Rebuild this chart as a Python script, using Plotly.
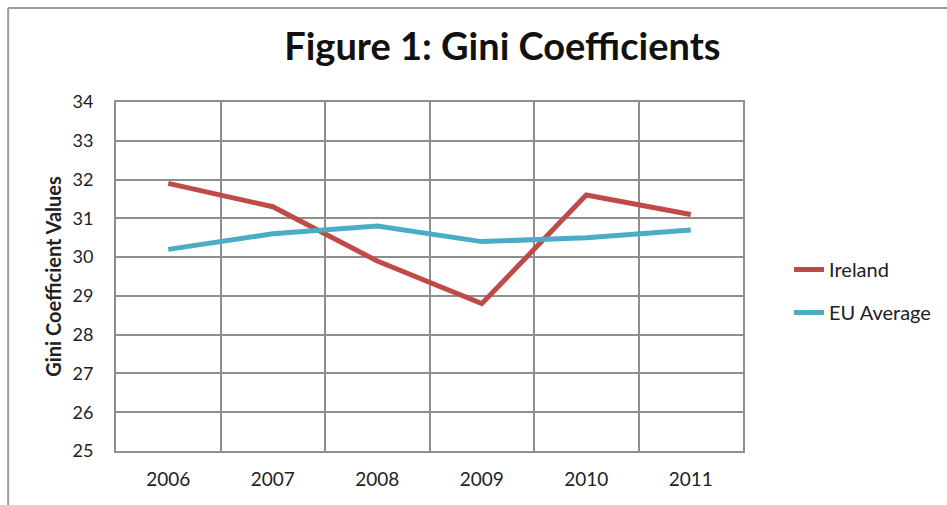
import plotly.graph_objects as go

years = ["2006", "2007", "2008", "2009", "2010", "2011"]
ireland = [31.9, 31.3, 29.9, 28.8, 31.6, 31.1]
eu_average = [30.2, 30.6, 30.8, 30.4, 30.5, 30.7]
y_ticks = [25, 26, 27, 28, 29, 30, 31, 32, 33, 34]

FONT = "Lato"
GRID = "#8e8e8e"

fig = go.Figure()
fig.add_trace(go.Scatter(x=years, y=ireland, name="Ireland", mode="lines",
                         line=dict(color="#BE4B48", width=5), legendgroup="a"))
fig.add_trace(go.Scatter(x=years, y=eu_average, name="EU Average", mode="lines",
                         line=dict(color="#4BACC6", width=5), legendgroup="b"))

W, H = 947, 505
L, R, T, B = 116, 744, 102, 451
pw, ph = R - L, B - T

def px(x):
    return (x - L) / pw

def py(y):
    return (B - y) / ph

fig.update_layout(
    width=W, height=H,
    margin=dict(l=L, r=W - R, t=T, b=H - B, pad=0),
    paper_bgcolor="white", plot_bgcolor="white",
    font=dict(family=FONT, color="#222222", size=19),
    title=dict(text="<b>Figure 1: Gini Coefficients</b>", x=0.5305, xanchor="center",
               y=1 - 47 / H, yanchor="middle", font=dict(size=38, color="#111111")),
    xaxis=dict(type="category", tickson="boundaries", range=[-0.5, 5.5], showgrid=True,
               gridcolor=GRID, gridwidth=2, showline=True, linecolor=GRID, linewidth=2,
               mirror=True, ticks="", ticklabelstandoff=10, tickfont=dict(size=19),
               zeroline=False),
    yaxis=dict(range=[25, 34], tickvals=y_ticks, showgrid=True, gridcolor=GRID,
               gridwidth=2, showline=True, linecolor=GRID, linewidth=2, mirror=True,
               ticks="", ticklabelstandoff=17, tickfont=dict(size=18), zeroline=False,
               title=dict(text="<b>Gini Coefficient Values</b>", standoff=6,
                          font=dict(size=20))),
    legend=dict(x=px(789), xanchor="left", y=py(291), yanchor="middle",
                font=dict(size=20), tracegroupgap=14, traceorder="grouped",
                bgcolor="rgba(0,0,0,0)"),
    showlegend=True,
)

fig.add_shape(type="line", xref="paper", yref="paper", x0=px(8), x1=px(8),
              y0=py(8), y1=py(520), line=dict(color="#9a9a9a", width=2))
fig.add_shape(type="line", xref="paper", yref="paper", x0=px(8), x1=px(960),
              y0=py(8), y1=py(8), line=dict(color="#9a9a9a", width=2))

fig.write_html("out.html")
